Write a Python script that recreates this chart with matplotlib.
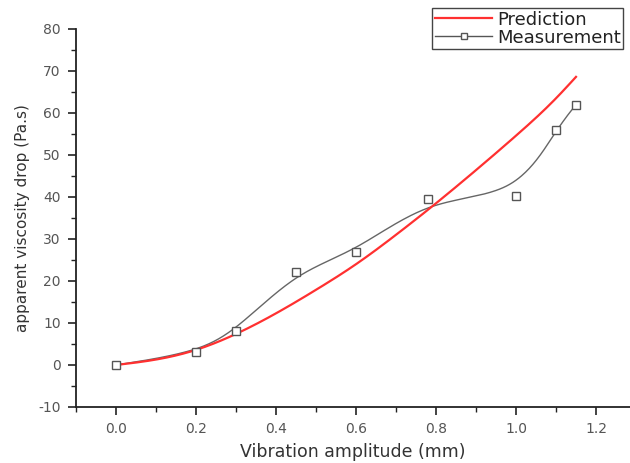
import numpy as np
import matplotlib
matplotlib.use("Agg")
import matplotlib.pyplot as plt
from matplotlib.ticker import MultipleLocator

# Data
meas_x = [0.0, 0.2, 0.3, 0.45, 0.6, 0.78, 1.0, 1.1, 1.15]
meas_y = [0.0, 3.0, 8.2, 22.2, 27.0, 39.6, 40.3, 56.0, 62.0]

pred_x = [0.0, 0.1, 0.2, 0.3, 0.4, 0.5, 0.6, 0.7, 0.8, 0.9, 1.0, 1.1, 1.15]
pred_y = [0.0, 1.3, 3.6, 7.4, 12.3, 17.9, 24.0, 31.0, 38.5, 46.4, 54.6, 63.5, 68.6]

x_ticks = [0.0, 0.2, 0.4, 0.6, 0.8, 1.0, 1.2]
y_ticks = [-10, 0, 10, 20, 30, 40, 50, 60, 70, 80]


def bspline(px, py, n=40):
    """Uniform cubic B-spline with clamped ends (Origin-style B-spline connection)."""
    px = np.r_[[px[0]] * 2, px, [px[-1]] * 2]
    py = np.r_[[py[0]] * 2, py, [py[-1]] * 2]
    xs, ys = [], []
    t = np.linspace(0, 1, n)
    b0 = (1 - t) ** 3 / 6
    b1 = (3 * t ** 3 - 6 * t ** 2 + 4) / 6
    b2 = (-3 * t ** 3 + 3 * t ** 2 + 3 * t + 1) / 6
    b3 = t ** 3 / 6
    for i in range(len(px) - 3):
        xs.append(b0 * px[i] + b1 * px[i + 1] + b2 * px[i + 2] + b3 * px[i + 3])
        ys.append(b0 * py[i] + b1 * py[i + 1] + b2 * py[i + 2] + b3 * py[i + 3])
    return np.concatenate(xs), np.concatenate(ys)


def natural_spline(x, y, n=400):
    x = np.asarray(x, float); y = np.asarray(y, float)
    m = len(x); h = np.diff(x)
    A = np.zeros((m, m)); r = np.zeros(m)
    A[0, 0] = A[-1, -1] = 1
    for i in range(1, m - 1):
        A[i, i - 1] = h[i - 1]; A[i, i] = 2 * (h[i - 1] + h[i]); A[i, i + 1] = h[i]
        r[i] = 3 * ((y[i + 1] - y[i]) / h[i] - (y[i] - y[i - 1]) / h[i - 1])
    c = np.linalg.solve(A, r)
    b = np.diff(y) / h - h * (2 * c[:-1] + c[1:]) / 3
    d = np.diff(c) / (3 * h)
    xx = np.linspace(x[0], x[-1], n)
    idx = np.clip(np.searchsorted(x, xx) - 1, 0, m - 2)
    dx = xx - x[idx]
    yy = y[idx] + b[idx] * dx + c[idx] * dx ** 2 + d[idx] * dx ** 3
    return xx, yy


plt.rcParams['font.family'] = ['DejaVu Sans']
plt.rcParams['axes.unicode_minus'] = False
fig = plt.figure(figsize=(6.3, 4.63), dpi=100)
ax = fig.add_axes([76 / 630, 1 - 407 / 463, (630 - 76) / 630, (407 - 29) / 463])

txt = '#333333'
px_, py_ = natural_spline(pred_x, pred_y)
ax.plot(px_, py_, color='#ff3030', lw=1.6, zorder=3, label='Prediction')

bx, by = bspline(meas_x, meas_y)
ax.plot(bx, by, color='#666666', lw=1.0, zorder=2)
ax.plot(meas_x, meas_y, ls='none', marker='s', ms=6, mfc='white', mec='#555555',
        mew=1.0, zorder=4)
ax.plot([], [], color='#555555', lw=1.0, marker='s', ms=4.5, mfc='white',
        mec='#555555', label='Measurement')

ax.set_xlim(-0.1, 1.285)
ax.set_ylim(-10, 80)
ax.set_xticks(x_ticks)
ax.set_yticks(y_ticks)
ax.xaxis.set_minor_locator(MultipleLocator(0.1))
ax.yaxis.set_minor_locator(MultipleLocator(5))
ax.tick_params(which='major', direction='out', length=6, width=1.2, colors='#222222',
               labelcolor='#555555', labelsize=10, pad=5)
ax.tick_params(which='minor', direction='out', length=3.5, width=1.0, colors='#222222')
ax.spines['top'].set_visible(False)
ax.spines['right'].set_visible(False)
for s in ('left', 'bottom'):
    ax.spines[s].set_linewidth(1.3)
    ax.spines[s].set_color('#222222')

ax.set_xlabel('Vibration amplitude (mm)', fontsize=12.5, color=txt, labelpad=5)
ax.set_ylabel('apparent viscosity drop (Pa.s)', fontsize=11, color=txt, labelpad=6)

leg = fig.legend(loc='upper left', bbox_to_anchor=(432 / 630, 1 - 8 / 463),
                 frameon=True, fancybox=False, edgecolor='#444444', framealpha=1,
                 fontsize=13, handlelength=3.2, handletextpad=0.25, borderpad=0.15,
                 labelspacing=0.0, borderaxespad=0)
leg.get_frame().set_linewidth(1.0)
for t in leg.get_texts():
    t.set_color('#222222')

fig.savefig('out.png', dpi=100)
